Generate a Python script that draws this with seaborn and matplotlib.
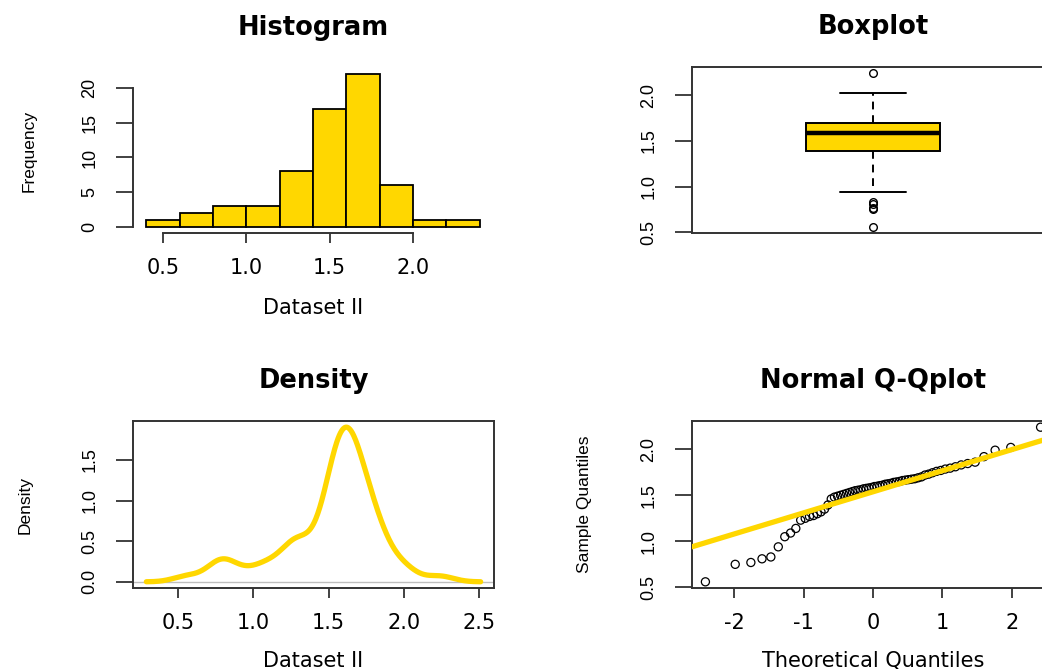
import numpy as np
import pandas as pd
import matplotlib
matplotlib.use("Agg")
import matplotlib.pyplot as plt
import seaborn as sns
from statistics import NormalDist

# ---------------- data ----------------
dataset_ii = [
    0.56, 0.75, 0.77, 0.81, 0.83, 0.94, 1.05, 1.09, 1.14,
    1.23, 1.25, 1.27, 1.28, 1.30, 1.32, 1.35, 1.395,
    1.46, 1.48, 1.49, 1.50, 1.51, 1.52, 1.53, 1.54, 1.55, 1.555, 1.56, 1.57,
    1.575, 1.58, 1.585, 1.595, 1.598,
    1.605, 1.61, 1.62, 1.625, 1.63, 1.64, 1.645, 1.65, 1.66, 1.665, 1.67,
    1.675, 1.68, 1.69, 1.70, 1.72, 1.73, 1.745, 1.76, 1.77, 1.785, 1.795,
    1.81, 1.83, 1.845, 1.86, 1.92, 1.99, 2.02, 2.24,
]
hist_breaks = [0.4, 0.6, 0.8, 1.0, 1.2, 1.4, 1.6, 1.8, 2.0, 2.2, 2.4]
hist_xticks = [0.5, 1.0, 1.5, 2.0]
hist_yticks = [0, 5, 10, 15, 20]
box_yticks = [0.5, 1.0, 1.5, 2.0]
dens_xticks = [0.5, 1.0, 1.5, 2.0, 2.5]
dens_yticks = [0.0, 0.5, 1.0, 1.5]
qq_xticks = [-2, -1, 0, 1, 2]
qq_yticks = [0.5, 1.0, 1.5, 2.0]
titles = ["Histogram", "Boxplot", "Density", "Normal Q-Qplot"]

GOLD = "#FFD700"
FRAME = "#333333"

sns.set_style("ticks")
plt.rcParams["axes.unicode_minus"] = False
plt.rcParams["font.family"] = ["DejaVu Sans"]
plt.rcParams["text.color"] = "black"
plt.rcParams["axes.labelcolor"] = "black"
plt.rcParams["xtick.color"] = "black"
plt.rcParams["ytick.color"] = "black"

W, H = 1042, 669
fig = plt.figure(figsize=(W / 100, H / 100), dpi=100, facecolor="white")


def pos(l, t, r, b):
    return [l / W, 1 - b / H, (r - l) / W, (b - t) / H]


ax_hist = fig.add_axes(pos(133, 68, 493, 233))
ax_box = fig.add_axes(pos(692, 67, 1054, 233))
ax_den = fig.add_axes(pos(133, 421, 494, 588))
ax_qq = fig.add_axes(pos(692, 421, 1054, 588))

data = np.array(dataset_ii)
n = len(data)
df = pd.DataFrame({"value": data})


def fmt(t):
    return f"{t:.1f}" if isinstance(t, float) else str(t)


def style_axes(ax, xticks, yticks, xlabel=None, ylabel=None, xlab_y=-0.39, ylab_x=-0.27):
    for s in ax.spines.values():
        s.set_color(FRAME)
        s.set_linewidth(1.4)
    if xticks is not None:
        ax.set_xticks(xticks)
        ax.set_xticklabels([fmt(t) for t in xticks], fontsize=15,
                           family="DejaVu Sans", color="black")
        ax.tick_params(axis="x", length=7.2, width=1.3, pad=10.5, color=FRAME, direction="out")
    else:
        ax.set_xticks([])
    ax.set_yticks(yticks)
    ax.set_yticklabels([fmt(t) for t in yticks], fontsize=13, family="Liberation Sans",
                       rotation=90, va="center", color="black")
    ax.tick_params(axis="y", length=12, width=1.3, pad=13, color=FRAME, direction="out")
    if xlabel:
        ax.set_xlabel(xlabel, fontsize=15, family="DejaVu Sans", color="black")
        ax.xaxis.set_label_coords(0.5, xlab_y)
    else:
        ax.set_xlabel("")
    if ylabel:
        ax.set_ylabel(ylabel, fontsize=12.5, family="Liberation Sans", color="black")
        ax.yaxis.set_label_coords(ylab_x, 0.5)
    else:
        ax.set_ylabel("")


def set_title(ax, text):
    ax.set_title(text, fontsize=18.5, fontweight="bold", family="DejaVu Sans",
                 pad=23.5, color="black")


# ---------------- Histogram ----------------
sns.histplot(data=df, x="value", bins=hist_breaks, color=GOLD, alpha=1,
             edgecolor="black", linewidth=1.3, ax=ax_hist)
rng = hist_breaks[-1] - hist_breaks[0]
ax_hist.set_xlim(hist_breaks[0] - 0.04 * rng, hist_breaks[-1] + 0.04 * rng)
cmax = max(p.get_height() for p in ax_hist.patches)
ax_hist.set_ylim(-0.04 * cmax, cmax * 1.04)
style_axes(ax_hist, hist_xticks, hist_yticks, "Dataset II", "Frequency", -0.394, -0.267)
ax_hist.spines["top"].set_visible(False)
ax_hist.spines["right"].set_visible(False)
ax_hist.spines["left"].set_bounds(hist_yticks[0], hist_yticks[-1])
ax_hist.spines["bottom"].set_bounds(hist_xticks[0], hist_xticks[-1])
set_title(ax_hist, titles[0])

# ---------------- Boxplot ----------------
sns.boxplot(y=data, ax=ax_box, color=GOLD, saturation=1, width=0.37,
            linecolor="black", linewidth=1.4, fliersize=5.5,
            whiskerprops=dict(linestyle=(0, (4, 3)), linewidth=1.4),
            medianprops=dict(linewidth=3.2, color="black"),
            flierprops=dict(marker="o", markerfacecolor="none",
                            markeredgecolor="black", markeredgewidth=1.0))
ax_box.set_xlim(-0.5, 0.5)
lo, hi = data.min(), data.max()
ax_box.set_ylim(lo - 0.04 * (hi - lo), hi + 0.04 * (hi - lo))
style_axes(ax_box, None, box_yticks)
set_title(ax_box, titles[1])

# ---------------- Density ----------------
sd = np.std(data, ddof=1)
iqr = np.subtract(*np.percentile(data, [75, 25]))
bw = 0.9 * min(sd, iqr / 1.34) * n ** (-0.2)
ax_den.axhline(0, color="#BEBEBE", linewidth=1.0, zorder=1)
sns.kdeplot(data=df, x="value", bw_method=bw / sd, cut=3, gridsize=512,
            color=GOLD, linewidth=3.8, ax=ax_den, zorder=2)
line = ax_den.lines[-1]
xd, yd = line.get_xdata(), line.get_ydata()
xr = xd.max() - xd.min()
ax_den.set_xlim(xd.min() - 0.04 * xr, xd.max() + 0.04 * xr)
ax_den.set_ylim(-0.04 * yd.max(), yd.max() * 1.04)
style_axes(ax_den, dens_xticks, dens_yticks, "Dataset II", "Density", -0.377, -0.277)
set_title(ax_den, titles[2])

# ---------------- Normal Q-Q plot ----------------
sample = np.sort(data)
nd = NormalDist()
theo = np.array([nd.inv_cdf((i - 0.5) / n) for i in range(1, n + 1)])
qdf = pd.DataFrame({"Theoretical": theo, "Sample": sample})
sns.scatterplot(data=qdf, x="Theoretical", y="Sample", ax=ax_qq, marker="o",
                s=34, facecolor="none", edgecolor="black", linewidth=0.9, zorder=2)
q1, q3 = np.percentile(data, [25, 75])
z1, z3 = nd.inv_cdf(0.25), nd.inv_cdf(0.75)
ax_qq.axline((z1, q1), (z3, q3), color=GOLD, linewidth=3.8, zorder=3)
tr = theo.max() - theo.min()
ax_qq.set_xlim(theo.min() - 0.04 * tr, theo.max() + 0.04 * tr)
ax_qq.set_ylim(lo - 0.04 * (hi - lo), hi + 0.04 * (hi - lo))
style_axes(ax_qq, qq_xticks, qq_yticks, "Theoretical Quantiles", "Sample Quantiles", -0.377, -0.276)
set_title(ax_qq, titles[3])

fig.savefig("out.png", dpi=100, facecolor="white")
